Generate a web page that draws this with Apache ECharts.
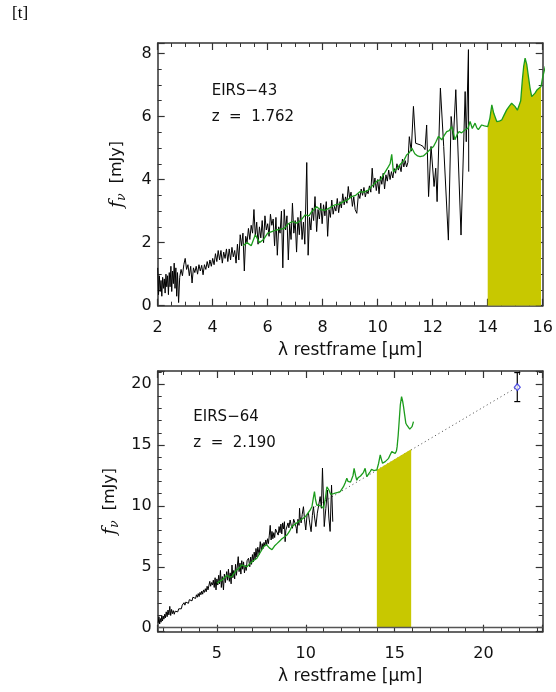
<!DOCTYPE html>
<html>
<head>
<meta charset="utf-8">
<script src="https://cdn.jsdelivr.net/npm/echarts@6/dist/echarts.min.js"></script>
<style>
html, body { margin: 0; padding: 0; background: #fff; }
#chart { width: 556px; height: 692px; }
</style>
</head>
<body>
<div id="chart"></div>
<script>
// EIRS-43 (top panel): IRS spectrum [lambda, f_nu]
var spec43 = [
  [2.00,1.20],[2.03,0.35],[2.06,0.95],[2.09,0.45],[2.12,0.80],[2.15,0.30],[2.18,0.90],[2.21,0.55],
  [2.24,0.85],[2.27,0.40],[2.30,1.00],[2.33,0.60],[2.36,0.95],[2.39,0.35],[2.42,1.05],[2.45,0.60],
  [2.48,1.25],[2.51,0.45],[2.54,1.10],[2.57,0.70],[2.60,1.35],[2.63,0.55],[2.66,1.20],[2.69,0.30],
  [2.72,1.05],[2.76,0.10],[2.80,0.90],[2.85,1.15],[2.90,0.95],[2.95,1.30],[3.00,1.50],[3.05,1.15],
  [3.10,1.30],[3.15,0.95],[3.20,1.25],[3.25,0.72],[3.30,1.20],[3.35,1.05],[3.40,1.25],[3.45,1.00],
  [3.50,1.30],[3.55,1.10],[3.60,1.28],[3.65,0.98],[3.70,1.30],[3.75,1.15],[3.80,1.40],[3.85,1.20],
  [3.90,1.45],[3.95,1.25],[4.00,1.50],[4.05,1.30],[4.10,1.65],[4.15,1.40],[4.20,1.75],[4.25,1.45],
  [4.30,1.75],[4.35,1.35],[4.40,1.70],[4.45,1.50],[4.50,1.80],[4.55,1.40],[4.60,1.80],[4.65,1.45],
  [4.70,1.85],[4.75,1.55],[4.80,1.75],[4.85,1.35],[4.90,1.95],[4.95,1.45],[5.00,2.25],[5.05,1.90],
  [5.10,2.30],[5.15,1.10],[5.20,2.20],[5.25,2.00],[5.30,2.45],[5.35,2.10],[5.40,2.55],[5.45,2.30],
  [5.50,3.05],[5.55,2.20],[5.60,2.65],[5.65,1.95],[5.70,2.50],[5.75,2.15],[5.80,2.70],[5.85,2.00],
  [5.90,2.85],[5.95,2.40],[6.00,2.60],[6.05,2.20],[6.10,2.90],[6.15,2.55],[6.20,2.75],[6.25,1.90],
  [6.30,2.80],[6.35,1.60],[6.40,2.50],[6.45,2.30],[6.50,3.00],[6.55,1.20],[6.60,3.05],[6.65,2.40],
  [6.70,2.85],[6.75,1.45],[6.80,2.60],[6.85,2.10],[6.90,3.25],[6.95,2.30],[7.00,2.70],[7.05,1.70],
  [7.10,2.80],[7.15,2.25],[7.20,3.00],[7.25,2.10],[7.30,2.65],[7.35,1.95],[7.42,4.54],[7.47,1.60],
  [7.52,2.80],[7.57,2.40],[7.62,3.10],[7.67,2.70],[7.72,3.46],[7.78,2.35],[7.83,3.05],[7.88,2.75],
  [7.93,3.25],[7.98,2.60],[8.03,3.20],[8.08,2.85],[8.13,3.30],[8.18,2.20],[8.23,3.05],[8.28,2.80],
  [8.33,3.35],[8.38,2.90],[8.43,3.15],[8.48,3.00],[8.53,3.40],[8.58,2.95],[8.63,3.30],[8.68,3.10],
  [8.73,3.55],[8.78,3.20],[8.83,3.45],[8.88,3.25],[8.93,3.78],[8.98,3.40],[9.03,3.60],[9.08,3.15],
  [9.13,3.45],[9.18,3.05],[9.24,2.93],[9.30,3.55],[9.35,3.40],[9.40,3.70],[9.45,3.50],[9.50,3.75],
  [9.55,3.45],[9.60,3.65],[9.65,3.55],[9.70,3.80],[9.75,3.60],[9.80,4.36],[9.85,3.75],[9.90,4.05],
  [9.95,3.65],[10.00,4.00],[10.05,3.55],[10.10,4.10],[10.15,3.85],[10.20,4.20],[10.25,3.70],[10.30,4.15],
  [10.35,3.95],[10.40,4.30],[10.45,4.00],[10.50,4.25],[10.55,4.05],[10.60,4.35],[10.65,4.20],[10.70,4.50],
  [10.75,4.30],[10.80,4.45],[10.85,4.25],[10.90,4.65],[10.95,4.40],[11.00,4.60],[11.05,4.40],[11.10,4.55],
  [11.15,5.36],[11.22,4.90],[11.30,6.32],[11.38,5.15],[11.45,5.10],[11.55,5.10],[11.65,5.05],[11.72,4.95],
  [11.78,5.73],[11.85,3.46],[11.94,5.05],[12.05,3.78],[12.11,4.36],[12.16,3.30],[12.28,6.90],[12.40,5.05],
  [12.57,2.08],[12.67,6.00],[12.75,5.26],[12.84,6.85],[13.03,2.24],[13.18,6.79],[13.22,5.20],[13.30,8.12],
  [13.31,4.25]
];
// EIRS-43 template (green)
var tpl43 = [
  [5.10,1.90],[5.25,2.00],[5.40,1.90],[5.55,2.25],[5.70,2.00],[5.85,2.10],[6.00,2.30],[6.15,2.35],
  [6.30,2.40],[6.45,2.42],[6.60,2.45],[6.75,2.60],[6.90,2.67],[7.05,2.62],[7.20,2.70],[7.36,2.88],
  [7.50,2.85],[7.60,2.98],[7.78,3.14],[7.90,3.05],[8.08,3.02],[8.25,3.10],[8.45,3.20],[8.60,3.22],
  [8.75,3.30],[8.90,3.35],[9.05,3.46],[9.20,3.50],[9.36,3.62],[9.50,3.60],[9.66,3.67],[9.80,3.80],
  [9.96,3.94],[10.10,4.00],[10.21,4.15],[10.39,4.41],[10.45,4.50],[10.51,4.80],[10.57,4.25],[10.70,4.35],
  [10.81,4.47],[10.95,4.60],[11.05,4.78],[11.15,4.85],[11.24,5.00],[11.35,4.82],[11.45,4.75],[11.54,4.73],
  [11.66,4.75],[11.78,4.84],[11.90,4.95],[12.03,5.05],[12.12,5.20],[12.21,5.37],[12.33,5.26],[12.42,5.40],
  [12.51,5.52],[12.60,5.55],[12.69,5.68],[12.75,5.50],[12.81,5.26],[12.90,5.45],[12.96,5.52],[13.05,5.48],
  [13.18,5.58],[13.28,5.62],[13.36,5.84],[13.44,5.62],[13.54,5.79],[13.60,5.65],[13.66,5.58],[13.78,5.73],
  [13.88,5.70],[14.00,5.68],[14.08,5.95],[14.15,6.37],[14.22,6.10],[14.33,5.84],[14.42,5.85],[14.51,5.89],
  [14.60,6.05],[14.69,6.21],[14.78,6.32],[14.87,6.42],[14.99,6.32],[15.08,6.20],[15.14,6.16],[15.20,6.50],
  [15.26,7.16],[15.31,7.60],[15.36,7.85],[15.42,7.65],[15.48,7.27],[15.54,6.90],[15.60,6.63],[15.66,6.65],
  [15.72,6.74],[15.80,6.85],[15.87,6.90],[15.94,6.95],[16.00,7.25],[16.10,7.60]
];
var band43 = [14.0, 15.94];

// EIRS-64 (bottom panel)
var spec64 = [
  [1.70,0.40],[1.74,0.90],[1.78,0.30],[1.82,0.75],[1.86,0.45],[1.90,1.00],[1.94,0.55],[1.98,0.95],
  [2.02,0.70],[2.06,1.10],[2.10,0.80],[2.15,1.30],[2.20,0.90],[2.25,1.45],[2.30,1.05],[2.35,1.75],
  [2.40,1.00],[2.45,1.50],[2.50,1.15],[2.55,1.40],[2.60,1.10],[2.65,1.35],[2.70,1.20],[2.75,1.45],
  [2.80,1.30],[2.85,1.55],[2.90,1.40],[2.95,1.70],[3.00,1.55],[3.05,1.85],[3.10,1.70],[3.15,2.05],
  [3.20,1.85],[3.25,2.10],[3.30,1.95],[3.35,2.20],[3.40,2.00],[3.45,2.30],[3.50,2.15],[3.55,2.40],
  [3.60,2.20],[3.65,2.50],[3.70,2.35],[3.75,2.60],[3.80,2.40],[3.85,2.70],[3.90,2.50],[3.95,2.80],
  [4.00,2.55],[4.05,2.90],[4.10,2.70],[4.15,3.00],[4.20,2.75],[4.25,3.10],[4.30,2.90],[4.35,3.20],
  [4.40,2.95],[4.45,3.40],[4.50,3.10],[4.55,3.15],[4.60,3.80],[4.65,3.40],[4.70,3.70],
  [4.75,3.50],[4.80,3.90],[4.85,3.30],[4.90,4.10],[4.95,3.10],[5.00,4.00],[5.05,3.50],[5.10,4.30],
  [5.15,3.60],[5.20,4.70],[5.25,3.30],[5.30,4.20],[5.37,3.10],[5.42,4.40],[5.48,3.70],[5.55,4.60],
  [5.60,3.90],[5.65,4.80],[5.70,3.80],[5.75,4.50],[5.80,3.60],[5.85,5.14],[5.90,4.10],[5.95,4.70],
  [6.00,4.00],[6.05,5.20],[6.10,4.30],[6.20,5.83],[6.25,4.60],[6.30,5.30],[6.35,4.40],[6.40,5.50],
  [6.45,4.80],[6.50,5.40],[6.55,4.50],[6.60,5.10],[6.65,4.70],[6.70,5.50],[6.78,5.70],[6.85,5.00],
  [6.90,5.80],[6.95,5.20],[7.00,6.00],[7.05,5.40],[7.10,6.20],[7.15,5.60],[7.20,6.50],[7.25,5.80],
  [7.30,6.60],[7.38,6.00],[7.44,7.06],[7.50,6.30],[7.55,6.90],[7.60,6.50],[7.65,7.00],[7.70,6.70],
  [7.75,7.20],[7.80,6.80],[7.85,7.30],[7.90,6.90],[7.95,7.60],[8.00,8.40],[8.05,7.20],[8.10,7.90],
  [8.15,7.30],[8.20,7.80],[8.25,7.40],[8.30,8.10],[8.38,8.00],[8.45,7.60],[8.50,8.30],[8.55,7.80],
  [8.60,8.50],[8.65,7.70],[8.70,8.60],[8.75,8.10],[8.80,8.70],[8.84,7.06],[8.88,8.00],[8.93,8.16],
  [9.00,8.60],[9.05,8.20],[9.12,8.84],[9.18,8.40],[9.25,8.16],[9.32,8.90],[9.40,8.57],[9.47,8.16],
  [9.50,7.75],[9.56,8.90],[9.62,8.40],[9.65,9.80],[9.68,9.10],[9.74,8.60],[9.80,9.30],[9.87,9.93],
  [9.93,8.90],[10.00,8.02],[10.07,9.20],[10.15,9.39],[10.22,8.60],[10.30,7.88],[10.37,9.20],[10.43,9.93],
  [10.50,9.00],[10.57,8.30],[10.65,9.40],[10.72,9.39],[10.81,10.76],[10.88,9.80],[10.94,13.10],[11.04,8.30],
  [11.13,9.80],[11.22,11.30],[11.30,9.00],[11.37,7.90],[11.45,11.70],[11.52,8.70]
];
// EIRS-64 template (green)
var tpl64 = [
  [5.00,3.64],[5.14,3.80],[5.28,3.90],[5.42,4.10],[5.56,4.30],[5.70,4.15],[5.84,4.20],[5.98,4.50],
  [6.12,4.74],[6.26,4.90],[6.40,5.15],[6.55,5.05],[6.69,5.00],[6.83,5.20],[6.97,5.40],[7.11,5.55],
  [7.25,5.70],[7.39,6.05],[7.53,6.40],[7.66,6.70],[7.80,6.80],[7.95,6.55],[8.10,6.40],[8.24,6.70],
  [8.38,6.90],[8.52,7.10],[8.66,7.30],[8.80,7.45],[8.94,7.60],[9.08,7.90],[9.22,8.30],[9.40,8.50],
  [9.59,8.70],[9.78,8.90],[9.97,9.10],[10.12,9.40],[10.25,9.66],[10.35,9.95],[10.42,10.60],[10.49,11.17],
  [10.55,10.50],[10.62,10.07],[10.72,10.15],[10.85,10.00],[11.00,9.80],[11.10,10.60],[11.19,11.57],[11.30,11.30],
  [11.40,10.95],[11.47,10.90],[11.56,11.00],[11.65,11.03],[11.80,11.10],[11.94,11.17],[12.03,11.30],[12.12,11.57],
  [12.22,11.90],[12.31,12.26],[12.38,12.00],[12.44,11.85],[12.52,11.95],[12.59,12.10],[12.66,12.50],[12.72,13.08],
  [12.80,12.50],[12.87,12.10],[12.94,12.30],[13.00,12.40],[13.08,12.45],[13.15,12.53],[13.25,12.75],[13.34,13.08],
  [13.40,12.60],[13.44,12.40],[13.53,12.60],[13.62,12.80],[13.70,13.00],[13.75,13.08],[13.83,12.90],[13.90,12.80],
  [14.00,12.95],[14.10,13.50],[14.19,14.18],[14.26,13.80],[14.32,13.50],[14.40,13.55],[14.47,13.63],[14.56,13.75],
  [14.66,13.90],[14.75,14.20],[14.84,14.45],[14.93,14.40],[15.03,14.30],[15.10,14.50],[15.14,14.86],[15.20,15.80],
  [15.26,17.05],[15.32,18.30],[15.39,18.97],[15.45,18.60],[15.50,18.15],[15.57,17.40],[15.63,16.78],[15.70,16.60],
  [15.78,16.50],[15.85,16.30],[15.91,16.23],[15.98,16.50],[16.06,16.91]
];
// power-law extrapolation to the 70um point (dotted) and 14-16um band
var extrap64 = [[10.5, 9.9], [21.9, 19.75]];
var band64 = [[14.0, 12.95], [15.93, 14.64]];
// MIPS photometry: [lambda, f, err_lo, err_hi]
var phot64 = [21.9, 19.74, 18.56, 20.94];

var AX = '#333';
var FONT = 'DejaVu Sans';

function xAxes(grid, min, max, interval, split, minor) {
  var base = {
    type: 'value', gridIndex: grid, min: min, max: max,
    axisLine: { show: true, onZero: false, lineStyle: { color: AX, width: 1.5 } },
    axisTick: { show: true, inside: true, length: 7, lineStyle: { color: AX, width: 1.2 } },
    minorTick: { show: true, splitNumber: minor, length: 4, lineStyle: { color: AX, width: 1 } },
    splitLine: { show: false }
  };
  if (interval) base.interval = interval; else base.splitNumber = split;
  var bottom = Object.assign({}, base, {
    position: 'bottom',
    axisLabel: { show: true, margin: 14, fontFamily: FONT, fontSize: 16, color: '#111',
      showMinLabel: interval ? true : false, showMaxLabel: interval ? true : false },
    name: 'λ restframe [μm]', nameLocation: 'middle', nameGap: 36,
    nameTextStyle: { fontFamily: FONT, fontSize: 17, color: '#111' }
  });
  var top = Object.assign({}, base, { position: 'top', axisLabel: { show: false } });
  return [bottom, top];
}

function yAxes(grid, min, max, split, minor) {
  var base = {
    type: 'value', gridIndex: grid, min: min, max: max, splitNumber: split,
    axisLine: { show: true, onZero: false, lineStyle: { color: AX, width: 1.5 } },
    axisTick: { show: true, inside: true, length: 7, lineStyle: { color: AX, width: 1.2 } },
    minorTick: { show: true, splitNumber: minor, length: 4, lineStyle: { color: AX, width: 1 } },
    splitLine: { show: false }
  };
  var left = Object.assign({}, base, {
    position: 'left',
    axisLabel: { show: true, margin: 6, fontFamily: FONT, fontSize: 16, color: '#111',
      showMinLabel: min === 0, showMaxLabel: false },
    name: '{f|f}{nu|ν}  [mJy]', nameLocation: 'middle', nameGap: 30, nameRotate: 90,
    nameTextStyle: {
      fontFamily: FONT, fontSize: 16, color: '#111',
      rich: {
        f: { fontFamily: 'DejaVu Serif', fontStyle: 'italic', fontSize: 19, color: '#111' },
        nu: { fontFamily: 'DejaVu Serif', fontStyle: 'italic', fontSize: 12, color: '#111', padding: [9, 0, 0, 0] }
      }
    }
  });
  var right = Object.assign({}, base, { position: 'right', axisLabel: { show: false } });
  return [left, right];
}

var xa = xAxes(0, 2, 16, 2, 0, 4).concat(xAxes(1, 1.67, 23.33, 0, 4, 5));
var ya = yAxes(0, 0, 8.33, 4, 4).concat(yAxes(1, -0.33, 21.07, 4, 5));

var GREEN = '#1c9c1c';
var YELLOW = '#c8c800';

var chart = echarts.init(document.getElementById('chart'), null, { renderer: 'canvas' });
chart.setOption({
  animation: false,
  backgroundColor: '#fff',
  grid: [
    { left: 157.7, top: 43, width: 385, height: 262.7 },
    { left: 157.7, top: 371, width: 385, height: 260.7 }
  ],
  xAxis: xa,
  yAxis: ya,
  graphic: [
    { type: 'text', x: 12, y: 14, style: { text: '[t]', font: '17px "Liberation Serif"', fill: '#000', textVerticalAlign: 'middle' } },
    { type: 'text', x: 211.7, y: 91.5, style: { text: 'EIRS−43', font: '15px "DejaVu Sans"', fill: '#111', textVerticalAlign: 'middle' } },
    { type: 'text', x: 211.7, y: 117.3, style: { text: 'z  =  1.762', font: '15px "DejaVu Sans"', fill: '#111', textVerticalAlign: 'middle' } },
    { type: 'text', x: 193.3, y: 417.3, style: { text: 'EIRS−64', font: '15px "DejaVu Sans"', fill: '#111', textVerticalAlign: 'middle' } },
    { type: 'text', x: 193.3, y: 442.7, style: { text: 'z  =  2.190', font: '15px "DejaVu Sans"', fill: '#111', textVerticalAlign: 'middle' } }
  ],
  series: [
    // top panel
    {
      type: 'line', xAxisIndex: 0, yAxisIndex: 0, z: 1,
      data: tpl43.filter(function (p) { return p[0] >= band43[0] && p[0] <= band43[1]; }),
      showSymbol: false, lineStyle: { width: 0 },
      areaStyle: { color: YELLOW, opacity: 1, origin: 0 }
    },
    {
      type: 'line', xAxisIndex: 0, yAxisIndex: 0, z: 2, data: spec43,
      showSymbol: false, lineStyle: { color: '#000', width: 1 }
    },
    {
      type: 'line', xAxisIndex: 0, yAxisIndex: 0, z: 3, data: tpl43, clip: true,
      showSymbol: false, lineStyle: { color: GREEN, width: 1.3 }
    },
    // bottom panel
    {
      type: 'line', xAxisIndex: 2, yAxisIndex: 2, z: 1, data: extrap64,
      showSymbol: false, lineStyle: { color: '#444', width: 1, type: [1, 3] },
      markLine: {
        silent: true, symbol: ['none', 'none'], label: { show: false },
        lineStyle: { color: '#555', width: 1.3, type: 'solid' },
        data: [{ yAxis: 0 }]
      }
    },
    {
      type: 'line', xAxisIndex: 2, yAxisIndex: 2, z: 2, data: band64,
      showSymbol: false, lineStyle: { width: 0 },
      areaStyle: { color: YELLOW, opacity: 1, origin: 0 }
    },
    {
      type: 'line', xAxisIndex: 2, yAxisIndex: 2, z: 3, data: spec64,
      showSymbol: false, lineStyle: { color: '#000', width: 1 }
    },
    {
      type: 'line', xAxisIndex: 2, yAxisIndex: 2, z: 4, data: tpl64,
      showSymbol: false, lineStyle: { color: GREEN, width: 1.3 }
    },
    {
      type: 'custom', xAxisIndex: 2, yAxisIndex: 2, z: 5,
      data: [[phot64[0], phot64[2], phot64[3]]],
      encode: { x: 0, y: [1, 2] },
      renderItem: function (params, api) {
        var lo = api.coord([api.value(0), api.value(1)]);
        var hi = api.coord([api.value(0), api.value(2)]);
        var st = { stroke: '#000', lineWidth: 1.2 };
        return {
          type: 'group', children: [
            { type: 'line', shape: { x1: lo[0], y1: lo[1], x2: hi[0], y2: hi[1] }, style: st },
            { type: 'line', shape: { x1: lo[0] - 3, y1: lo[1], x2: lo[0] + 3, y2: lo[1] }, style: st },
            { type: 'line', shape: { x1: hi[0] - 3, y1: hi[1], x2: hi[0] + 3, y2: hi[1] }, style: st }
          ]
        };
      }
    },
    {
      type: 'scatter', xAxisIndex: 2, yAxisIndex: 2, z: 6,
      data: [[phot64[0], phot64[1]]],
      symbol: 'diamond', symbolSize: [6, 7],
      itemStyle: { color: '#fff', borderColor: '#2a2ae0', borderWidth: 1.2 }
    }
  ]
});
</script>
</body>
</html>
